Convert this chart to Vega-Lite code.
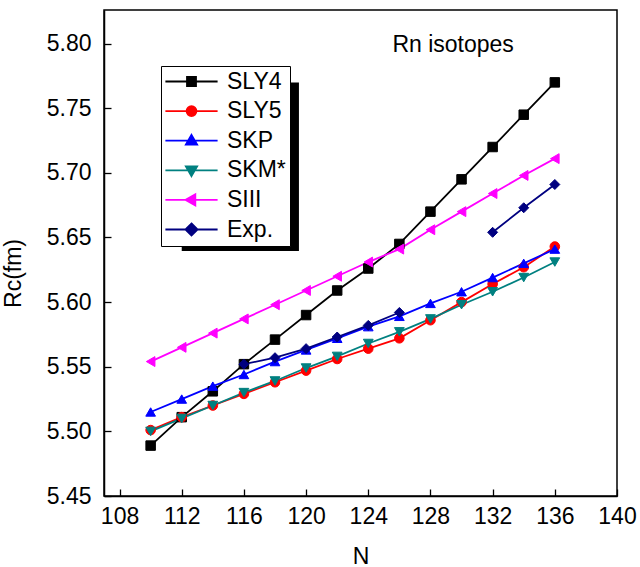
{
  "$schema": "https://vega.github.io/schema/vega-lite/v6.json",
  "autosize": {"type": "none"},
  "width": 513,
  "height": 486,
  "padding": {"left": 104, "top": 10, "right": 23, "bottom": 71},
  "config": {
    "font": "Liberation Sans",
    "view": {"stroke": "black", "strokeWidth": 1.5},
    "axis": {"grid": false, "domainColor": "black", "domainWidth": 1.5, "tickColor": "black", "tickWidth": 1.3, "labelColor": "black", "titleColor": "black", "labelFont": "Liberation Sans", "titleFont": "Liberation Sans", "labelFontSize": 23, "titleFontSize": 23, "titleFontWeight": "normal"}
  },
  "datasets": {
    "radii": [
      {"series": "SLY4", "N": 110, "Rc": 5.489}, {"series": "SLY4", "N": 112, "Rc": 5.511}, {"series": "SLY4", "N": 114, "Rc": 5.531}, {"series": "SLY4", "N": 116, "Rc": 5.552}, {"series": "SLY4", "N": 118, "Rc": 5.571}, {"series": "SLY4", "N": 120, "Rc": 5.590}, {"series": "SLY4", "N": 122, "Rc": 5.609}, {"series": "SLY4", "N": 124, "Rc": 5.626}, {"series": "SLY4", "N": 126, "Rc": 5.645}, {"series": "SLY4", "N": 128, "Rc": 5.670}, {"series": "SLY4", "N": 130, "Rc": 5.695}, {"series": "SLY4", "N": 132, "Rc": 5.720}, {"series": "SLY4", "N": 134, "Rc": 5.745}, {"series": "SLY4", "N": 136, "Rc": 5.770},
      {"series": "SLY5", "N": 110, "Rc": 5.501}, {"series": "SLY5", "N": 112, "Rc": 5.511}, {"series": "SLY5", "N": 114, "Rc": 5.520}, {"series": "SLY5", "N": 116, "Rc": 5.529}, {"series": "SLY5", "N": 118, "Rc": 5.538}, {"series": "SLY5", "N": 120, "Rc": 5.547}, {"series": "SLY5", "N": 122, "Rc": 5.556}, {"series": "SLY5", "N": 124, "Rc": 5.564}, {"series": "SLY5", "N": 126, "Rc": 5.572}, {"series": "SLY5", "N": 128, "Rc": 5.586}, {"series": "SLY5", "N": 130, "Rc": 5.600}, {"series": "SLY5", "N": 132, "Rc": 5.614}, {"series": "SLY5", "N": 134, "Rc": 5.627}, {"series": "SLY5", "N": 136, "Rc": 5.643},
      {"series": "SKP", "N": 110, "Rc": 5.515}, {"series": "SKP", "N": 112, "Rc": 5.525}, {"series": "SKP", "N": 114, "Rc": 5.535}, {"series": "SKP", "N": 116, "Rc": 5.544}, {"series": "SKP", "N": 118, "Rc": 5.554}, {"series": "SKP", "N": 120, "Rc": 5.563}, {"series": "SKP", "N": 122, "Rc": 5.572}, {"series": "SKP", "N": 124, "Rc": 5.581}, {"series": "SKP", "N": 126, "Rc": 5.589}, {"series": "SKP", "N": 128, "Rc": 5.599}, {"series": "SKP", "N": 130, "Rc": 5.608}, {"series": "SKP", "N": 132, "Rc": 5.619}, {"series": "SKP", "N": 134, "Rc": 5.630}, {"series": "SKP", "N": 136, "Rc": 5.641},
      {"series": "SKM*", "N": 110, "Rc": 5.500}, {"series": "SKM*", "N": 112, "Rc": 5.510}, {"series": "SKM*", "N": 114, "Rc": 5.520}, {"series": "SKM*", "N": 116, "Rc": 5.530}, {"series": "SKM*", "N": 118, "Rc": 5.539}, {"series": "SKM*", "N": 120, "Rc": 5.549}, {"series": "SKM*", "N": 122, "Rc": 5.558}, {"series": "SKM*", "N": 124, "Rc": 5.568}, {"series": "SKM*", "N": 126, "Rc": 5.577}, {"series": "SKM*", "N": 128, "Rc": 5.587}, {"series": "SKM*", "N": 130, "Rc": 5.598}, {"series": "SKM*", "N": 132, "Rc": 5.608}, {"series": "SKM*", "N": 134, "Rc": 5.619}, {"series": "SKM*", "N": 136, "Rc": 5.631},
      {"series": "SIII", "N": 110, "Rc": 5.554}, {"series": "SIII", "N": 112, "Rc": 5.565}, {"series": "SIII", "N": 114, "Rc": 5.576}, {"series": "SIII", "N": 116, "Rc": 5.587}, {"series": "SIII", "N": 118, "Rc": 5.598}, {"series": "SIII", "N": 120, "Rc": 5.609}, {"series": "SIII", "N": 122, "Rc": 5.620}, {"series": "SIII", "N": 124, "Rc": 5.631}, {"series": "SIII", "N": 126, "Rc": 5.641}, {"series": "SIII", "N": 128, "Rc": 5.656}, {"series": "SIII", "N": 130, "Rc": 5.670}, {"series": "SIII", "N": 132, "Rc": 5.684}, {"series": "SIII", "N": 134, "Rc": 5.698}, {"series": "SIII", "N": 136, "Rc": 5.711},
      {"series": "Exp.", "N": 116, "Rc": 5.552}, {"series": "Exp.", "N": 118, "Rc": 5.557}, {"series": "Exp.", "N": 120, "Rc": 5.564}, {"series": "Exp.", "N": 122, "Rc": 5.573}, {"series": "Exp.", "N": 124, "Rc": 5.582}, {"series": "Exp.", "N": 126, "Rc": 5.592}, {"series": "Exp.", "N": 128, "Rc": null}, {"series": "Exp.", "N": 130, "Rc": null}, {"series": "Exp.", "N": 132, "Rc": 5.654}, {"series": "Exp.", "N": 134, "Rc": 5.673}, {"series": "Exp.", "N": 136, "Rc": 5.691}
    ],
    "annotation": [{"label": "Rn isotopes"}],
    "none": []
  },
  "resolve": {"scale": {"shape": "independent", "color": "independent", "fill": "independent"}},
  "layer": [
    {
      "data": {"name": "radii"},
      "mark": {"type": "line", "strokeWidth": 1.8},
      "encoding": {
        "x": {"field": "N", "type": "quantitative", "scale": {"domain": [107, 140], "nice": false, "zero": false},
          "axis": {"values": [108,110,112,114,116,118,120,122,124,126,128,130,132,134,136,138,140],
            "labelExpr": "datum.value % 4 === 0 ? datum.label : ''",
            "tickSize": {"condition": {"test": "datum.value % 4 === 0", "value": -7}, "value": -3.5},
            "labelPadding": 16, "labelFlush": false, "labelOverlap": false, "title": "N", "titlePadding": 17}},
        "y": {"field": "Rc", "type": "quantitative", "scale": {"domain": [5.45, 5.826], "nice": false, "zero": false},
          "axis": {"values": [5.45,5.475,5.5,5.525,5.55,5.575,5.6,5.625,5.65,5.675,5.7,5.725,5.75,5.775,5.8],
            "labelExpr": "round(datum.value*1000) % 50 === 0 ? format(datum.value, '.2f') : ''",
            "tickSize": {"condition": {"test": "round(datum.value*1000) % 50 === 0", "value": -7}, "value": -3.5},
            "labelPadding": 20, "labelFlush": false, "labelOverlap": false, "title": "Rc(fm)", "titlePadding": 21, "titleY": 263}},
        "stroke": {"field": "series", "type": "nominal",
          "scale": {"domain": ["SLY4", "SLY5", "SKP", "SKM*", "SIII", "Exp."], "range": ["#000000", "#ff0000", "#0000ff", "#008080", "#ff00ff", "#000080"]},
          "legend": null}
      }
    },
    {
      "data": {"name": "radii"},
      "mark": {"type": "point", "filled": true, "opacity": 1, "strokeWidth": 1},
      "encoding": {
        "x": {"field": "N", "type": "quantitative"},
        "y": {"field": "Rc", "type": "quantitative"},
        "fill": {"field": "series", "type": "nominal",
          "scale": {"domain": ["SLY4", "SLY5", "SKP", "SKM*", "SIII", "Exp."], "range": ["#000000", "#ff0000", "#0000ff", "#008080", "#ff00ff", "#000080"]},
          "legend": null},
        "stroke": {"field": "series", "type": "nominal", "legend": null},
        "shape": {"field": "series", "type": "nominal",
          "scale": {"domain": ["SLY4", "SLY5", "SKP", "SKM*", "SIII", "Exp."], "range": ["square", "circle", "triangle-up", "triangle-down", "triangle-left", "diamond"]},
          "legend": null},
        "size": {"field": "series", "type": "nominal",
          "scale": {"domain": ["SLY4", "SLY5", "SKP", "SKM*", "SIII", "Exp."], "range": [90, 100, 180, 180, 180, 190]},
          "legend": null}
      }
    },
    {
      "data": {"name": "annotation"},
      "mark": {"type": "rect", "color": "black"},
      "encoding": {
        "x": {"datum": 112, "type": "quantitative"},
        "x2": {"datum": 119.54},
        "y": {"datum": 5.77, "type": "quantitative"},
        "y2": {"datum": 5.6395}
      }
    },
    {
      "data": {"name": "annotation"},
      "mark": {"type": "text", "fontSize": 23, "font": "Liberation Sans", "align": "center", "baseline": "alphabetic", "color": "black"},
      "encoding": {
        "x": {"datum": 129.46, "type": "quantitative"},
        "y": {"datum": 5.7937, "type": "quantitative"},
        "text": {"field": "label", "type": "nominal"}
      }
    },
    {
      "data": {"name": "none"},
      "mark": {"type": "point", "filled": false, "opacity": 1, "strokeWidth": 1.8},
      "encoding": {
        "shape": {"field": "series", "type": "nominal",
          "scale": {"domain": ["SLY4", "SLY5", "SKP", "SKM*", "SIII", "Exp."], "range": ["M-5.8,0H5.8M-1,-1H1V1H-1Z", "M-5.8,0H5.8M-1.1,0A1.1,1.1 0 1,0 1.1,0A1.1,1.1 0 1,0 -1.1,0Z", "M-5.8,0H5.8M0,-1.3L1.25,0.85H-1.25Z", "M-5.8,0H5.8M0,1.3L1.25,-0.85H-1.25Z", "M-5.8,0H5.8M-1.3,0L0.85,-1.25V1.25Z", "M-5.8,0H5.8M0,-1.35L1.35,0L0,1.35L-1.35,0Z"]},
          "legend": {"title": null, "orient": "none", "legendX": 57, "legendY": 56, "fillColor": "white", "strokeColor": "black", "padding": 4, "rowPadding": 5.6, "labelFontSize": 23, "labelFont": "Liberation Sans", "labelColor": "black", "labelLimit": 300, "symbolSize": 81, "symbolStrokeWidth": 1.8, "symbolOffset": 15, "labelOffset": 24, "symbolOpacity": 1}},
        "color": {"field": "series", "type": "nominal",
          "scale": {"domain": ["SLY4", "SLY5", "SKP", "SKM*", "SIII", "Exp."], "range": ["#000000", "#ff0000", "#0000ff", "#008080", "#ff00ff", "#000080"]},
          "legend": {"title": null, "orient": "none", "legendX": 57, "legendY": 56}},
        "fill": {"field": "series", "type": "nominal",
          "scale": {"domain": ["SLY4", "SLY5", "SKP", "SKM*", "SIII", "Exp."], "range": ["#000000", "#ff0000", "#0000ff", "#008080", "#ff00ff", "#000080"]},
          "legend": {"title": null, "orient": "none", "legendX": 57, "legendY": 56}}
      }
    }
  ]
}
